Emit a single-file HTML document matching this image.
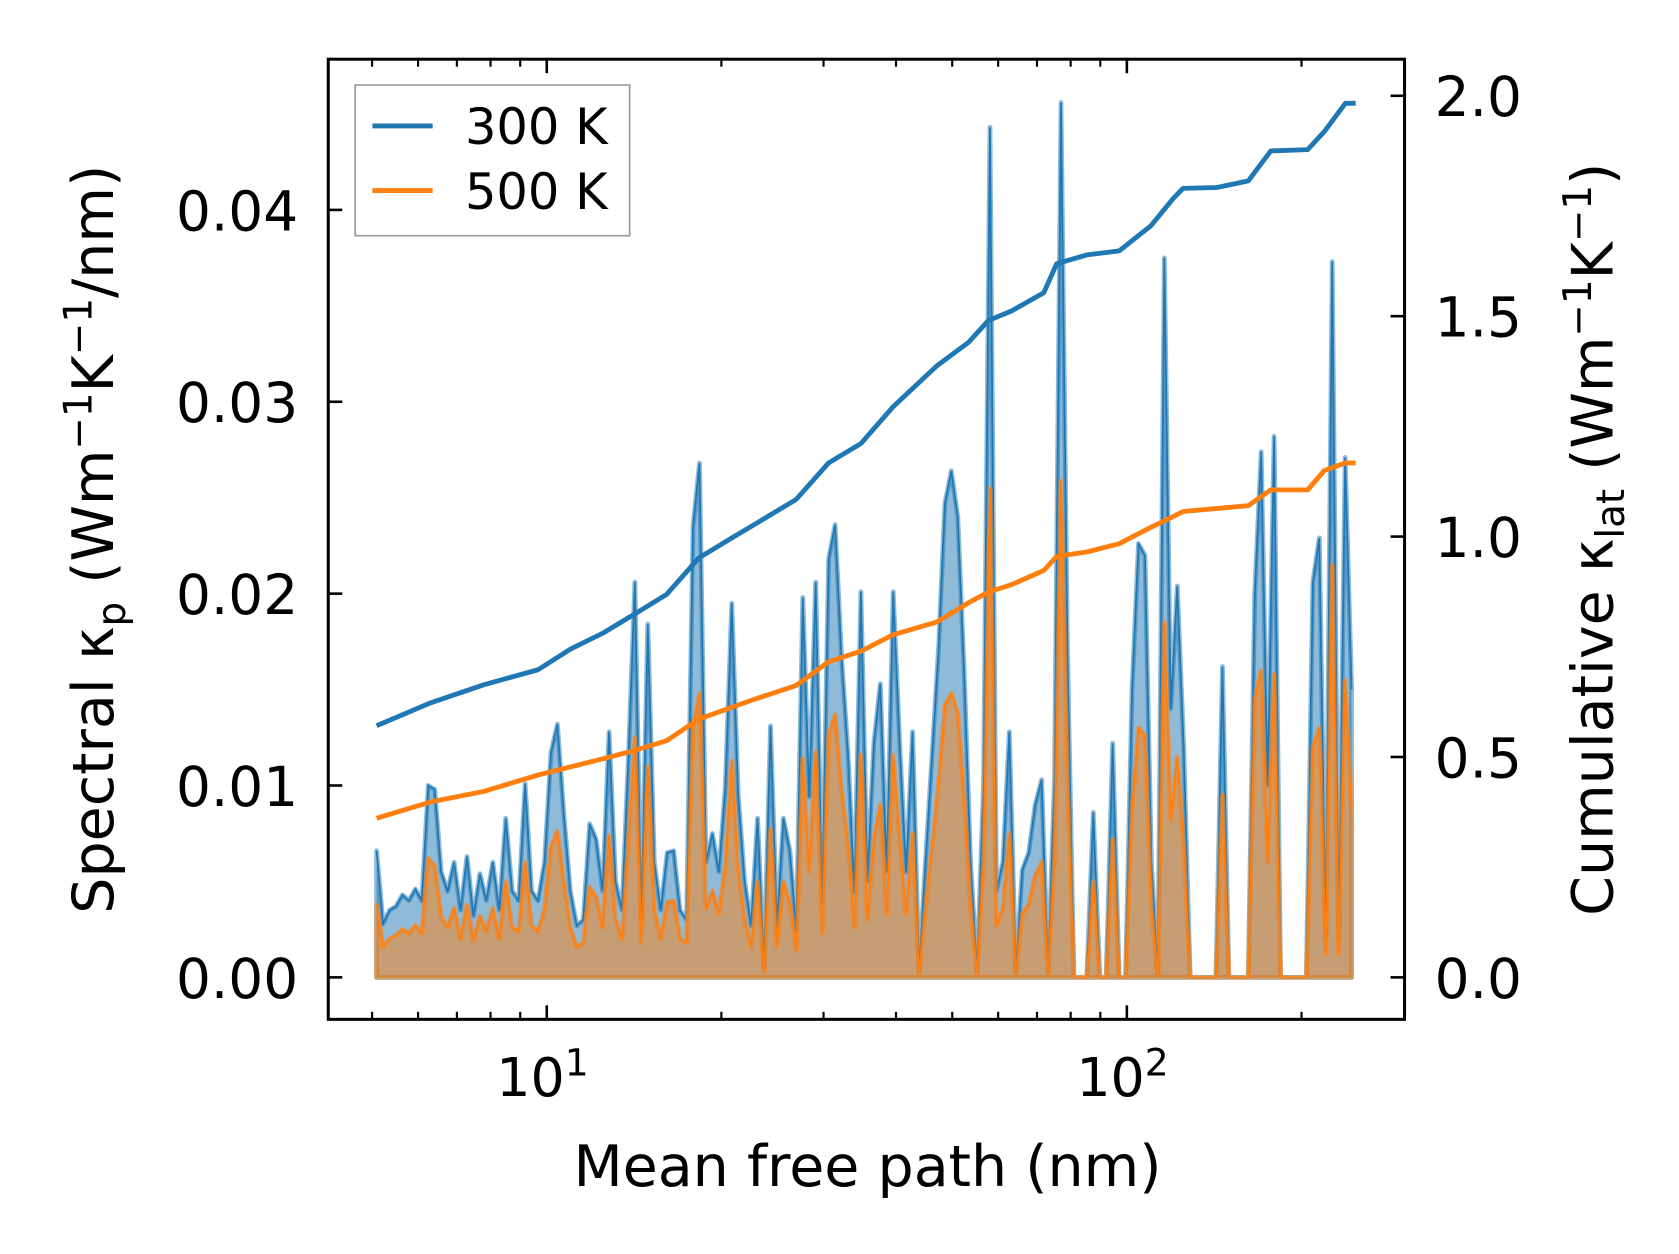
<!DOCTYPE html>
<html><head><meta charset="utf-8"><style>
html,body{margin:0;padding:0;background:#fff;}
svg{display:block;font-family:"DejaVu Sans","Liberation Sans",sans-serif;}
</style></head><body>
<svg id="chart" width="1679" height="1254" viewBox="0 0 1560 1165" preserveAspectRatio="none" xmlns="http://www.w3.org/2000/svg">
<rect x="0" y="0" width="1560" height="1165" fill="#fff"/>
<g id="plot"></g>
<g id="axes"></g>
</svg>
<script>
// ---- data ----
const mfpMin = 5.09, mfpMax = 244;
const spec300 = [.0066,.0028,.0035,.0037,.0043,.0040,.0046,.0040,.0100,.0098,.0055,.0045,.0060,.0035,.0063,.0032,.0054,.0040,.0060,.0035,.0083,.0045,.0040,.0101,.0045,.0040,.0060,.0117,.0132,.0085,.0045,.0027,.0030,.0080,.0072,.0045,.0128,.0050,.0035,.0115,.0206,.0030,.0184,.0060,.0035,.0065,.0066,.0035,.0030,.0235,.0268,.0060,.0075,.0055,.0099,.0195,.0095,.0050,.0027,.0083,.0005,.0131,.0027,.0083,.0066,.0024,.0198,.0094,.0206,.0038,.0218,.0236,.0167,.0117,.0044,.0201,.0050,.0122,.0153,.0055,.0201,.0122,.0055,.0128,.0003,.0060,.0115,.0170,.0247,.0264,.0240,.0160,.0060,.0003,.0100,.0443,.0045,.0060,.0128,.0003,.0056,.0065,.0090,.0103,.0003,.0104,.0456,.0170,0,0,0,.0086,0,0,.0122,0,0,.0150,.0226,.0220,.0060,0,.0375,.0140,.0204,.0120,0,0,0,0,0,.0162,0,0,0,0,.0200,.0274,.0100,.0282,0,0,0,0,0,.0206,.0229,.0020,.0373,.0020,.0271,.0150];
const spec500 = [.0038,.0016,.0020,.0022,.0025,.0023,.0027,.0023,.0062,.0058,.0032,.0026,.0036,.0020,.0038,.0019,.0032,.0024,.0036,.0020,.0050,.0026,.0024,.0060,.0027,.0024,.0036,.0068,.0076,.0050,.0026,.0016,.0018,.0047,.0042,.0026,.0074,.0030,.0020,.0070,.0125,.0018,.0110,.0036,.0020,.0039,.0040,.0020,.0018,.0130,.0148,.0036,.0045,.0033,.0058,.0113,.0056,.0030,.0016,.0050,.0003,.0077,.0016,.0050,.0039,.0014,.0114,.0055,.0118,.0023,.0126,.0137,.0098,.0069,.0026,.0116,.0030,.0072,.0090,.0033,.0116,.0072,.0033,.0075,.0002,.0036,.0068,.0100,.0142,.0148,.0138,.0094,.0036,.0002,.0060,.0255,.0027,.0036,.0075,.0002,.0033,.0038,.0053,.0060,.0002,.0061,.0259,.0100,0,0,0,.0050,0,0,.0072,0,0,.0088,.0130,.0126,.0036,0,.0185,.0082,.0115,.0070,0,0,0,0,0,.0095,0,0,0,0,.0145,.0160,.0060,.0158,0,0,0,0,0,.0120,.0130,.0012,.0215,.0012,.0155,.0088];
const cum300X = [5.09,6.31,7.80,9.66,11.0,12.5,14.2,16.1,18.3,20.8,22.7,26.9,30.6,34.8,39.5,47.0,53.4,57.7,63.3,71.9,75.7,85.3,97.0,110,120,125,143,162,177,205,219,238,248];
const cum300 = [.571,.623,.664,.698,.745,.781,.825,.869,.952,.996,1.026,1.084,1.167,1.211,1.294,1.387,1.441,1.490,1.512,1.553,1.619,1.639,1.648,1.705,1.766,1.790,1.792,1.807,1.875,1.878,1.919,1.983,1.983];
const cum500X = [5.09,6.31,7.80,9.66,12.5,14.2,16.1,18.3,22.7,26.9,30.6,34.8,39.5,47.0,53.4,57.7,63.3,71.9,75.7,85.3,97.0,110,120,125,162,177,205,219,238,248];
const cum500 = [.361,.398,.422,.459,.496,.515,.537,.586,.630,.662,.716,.740,.777,.806,.850,.874,.891,.923,.955,.965,.984,1.021,1.045,1.057,1.070,1.106,1.106,1.150,1.167,1.167];
const leftTicks = [0,0.01,0.02,0.03,0.04];
const leftTickLabels = ["0.00","0.01","0.02","0.03","0.04"];
const rightTicks = [0,0.5,1.0,1.5,2.0];
const rightTickLabels = ["0.0","0.5","1.0","1.5","2.0"];
const xMajor = [10,100];
const xMinor = [5,6,7,8,9,20,30,40,50,60,70,80,90,200];

// ---- axes functions ----
const L=305,R=1305,T=55,B=947;
const xs = v => 508 + (Math.log10(v)-1)*539;
const yl = v => 908 - v*17825;
const yr = v => 908 - v*409.5;
const NS="http://www.w3.org/2000/svg";
const plot=document.getElementById('plot'), axes=document.getElementById('axes');
function mk(tag, attrs, parent){const e=document.createElementNS(NS,tag);for(const k in attrs)e.setAttribute(k,attrs[k]);parent.appendChild(e);return e;}

const n = spec300.length;
const specX = spec300.map((_,i)=> mfpMin*Math.pow(mfpMax/mfpMin, i/(n-1)));
function area(vals, color, name){
  let d = `M${xs(specX[0])},${yl(0)}`;
  vals.forEach((v,i)=>{d+=` L${xs(specX[i]).toFixed(1)},${yl(v).toFixed(1)}`;});
  d += ` L${xs(specX[n-1])},${yl(0)} Z`;
  const a = mk('path',{d:d,fill:color,'fill-opacity':0.5,stroke:color,'stroke-opacity':0.5,'stroke-width':4.5,'stroke-linejoin':'round'},plot);
  
  
  const l = mk('polyline',{points:vals.map((v,i)=>xs(specX[i]).toFixed(1)+','+yl(v).toFixed(1)).join(' '),fill:'none',stroke:color,'stroke-width':1.6},plot);
  
  
}
area(spec300,'#1f77b4','spectral-300k');
area(spec500,'#ff7f0e','spectral-500k');
function cum(xv, vals, color, name){
  const l = mk('polyline',{points:vals.map((v,i)=>xs(xv[i]).toFixed(1)+','+yr(v).toFixed(1)).join(' '),fill:'none',stroke:color,'stroke-width':4.5,'stroke-linejoin':'round'},plot);
  
  
}
cum(cum300X,cum300,'#1f77b4','cumulative-300k');
cum(cum500X,cum500,'#ff7f0e','cumulative-500k');

const fr = mk('rect',{x:L,y:T,width:R-L,height:B-T,fill:'none',stroke:'#000','stroke-width':2.8},axes);


leftTicks.forEach((v,i)=>{
  mk('line',{x1:L,x2:L+13,y1:yl(v),y2:yl(v),stroke:'#000','stroke-width':2.4},axes);
  const t = mk('text',{x:L-28,y:yl(v)+19,'text-anchor':'end','font-size':51},axes);
  t.textContent = leftTickLabels[i];
  
  
});
rightTicks.forEach((v,i)=>{
  mk('line',{x1:R-13,x2:R,y1:yr(v),y2:yr(v),stroke:'#000','stroke-width':2.4},axes);
  const t = mk('text',{x:R+28,y:yr(v)+19,'text-anchor':'start','font-size':51},axes);
  t.textContent = rightTickLabels[i];
  
  
});
xMajor.forEach((v,i)=>{
  const x=xs(v);
  mk('line',{x1:x,x2:x,y1:B,y2:B-13,stroke:'#000','stroke-width':2.4},axes);
  mk('line',{x1:x,x2:x,y1:T,y2:T+13,stroke:'#000','stroke-width':2.4},axes);
  const t = mk('text',{x:x-4,y:1018,'text-anchor':'middle','font-size':50},axes);
  t.textContent = '10';
  const s = mk('tspan',{dy:-19,'font-size':35},t);
  s.textContent = String(i+1);
  
  
});
xMinor.forEach(v=>{
  const x=xs(v);
  mk('line',{x1:x,x2:x,y1:B,y2:B-7,stroke:'#000','stroke-width':2},axes);
  mk('line',{x1:x,x2:x,y1:T,y2:T+7,stroke:'#000','stroke-width':2},axes);
});
</script>
<div style="position:absolute;left:0;top:0;width:1679px;height:1254px;pointer-events:none">
<svg width="1679" height="1254" viewBox="0 0 1560 1165" preserveAspectRatio="none" xmlns="http://www.w3.org/2000/svg" style="font-family:'DejaVu Sans','Liberation Sans',sans-serif">
<text x="806" y="1102" text-anchor="middle" font-size="53">Mean free path (nm)</text>
<text transform="translate(105,501) rotate(-90)" text-anchor="middle" font-size="53">Spectral κ<tspan font-size="36" dy="11">p</tspan><tspan dy="-11"> (Wm</tspan><tspan font-size="36" dy="-20">−1</tspan><tspan dy="20">K</tspan><tspan font-size="36" dy="-20">−1</tspan><tspan dy="20">/nm)</tspan></text>
<text transform="translate(1498,501) rotate(-90)" text-anchor="middle" font-size="53">Cumulative κ<tspan font-size="36" dy="11">lat</tspan><tspan dy="-11"> (Wm</tspan><tspan font-size="36" dy="-20">−1</tspan><tspan dy="20">K</tspan><tspan font-size="36" dy="-20">−1</tspan><tspan dy="20">)</tspan></text>
<g>
<rect x="330" y="79" width="255" height="140" fill="#fff" fill-opacity="0.8" stroke="#999" stroke-width="1.5"/>
<line x1="346" x2="402" y1="117" y2="117" stroke="#1f77b4" stroke-width="4.5"/>
<text x="432" y="134" font-size="46">300 K</text>
<line x1="346" x2="402" y1="177" y2="177" stroke="#ff7f0e" stroke-width="4.5"/>
<text x="432" y="194" font-size="46">500 K</text>
</g>
</svg></div>
</body></html>
